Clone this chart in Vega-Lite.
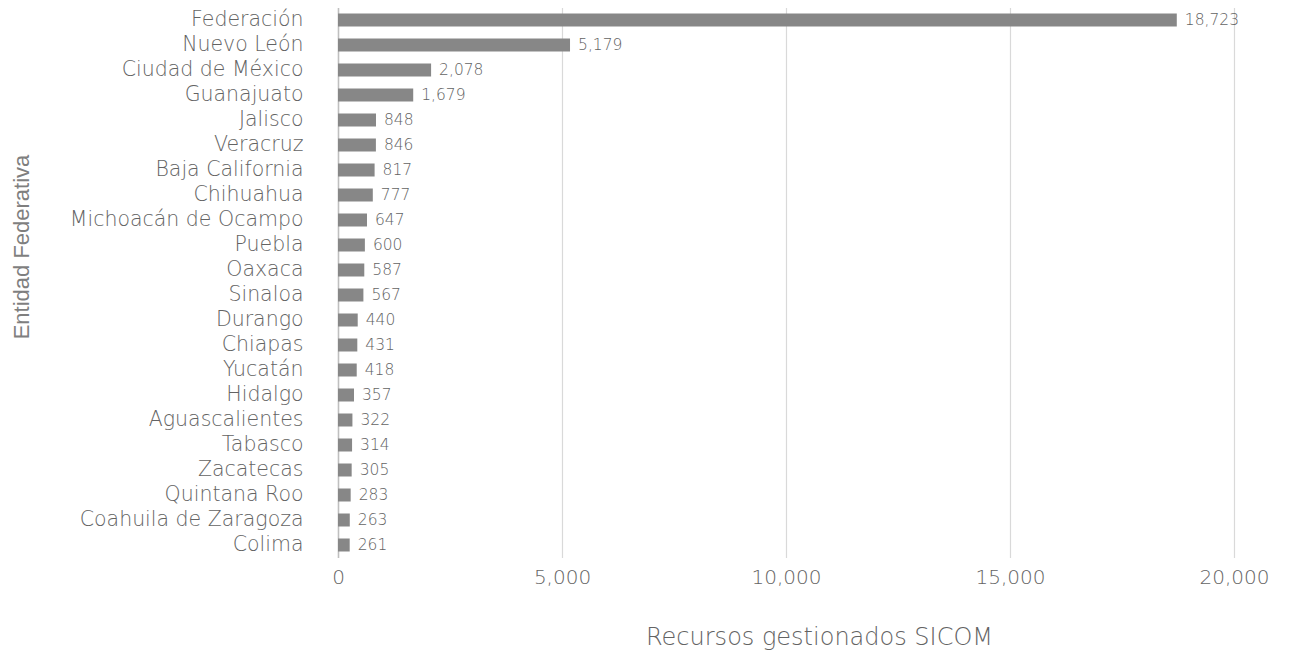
{
  "$schema": "https://vega.github.io/schema/vega-lite/v6.json",
  "width": 896,
  "height": 550,
  "autosize": "none",
  "padding": {"left": 338, "top": 7.5, "right": 55, "bottom": 96.5},
  "background": "white",
  "config": {"view": {"stroke": null}, "font": "DejaVu Sans"},
  "data": {"values": [
    {"entidad": "Federación", "valor": 18723},
    {"entidad": "Nuevo León", "valor": 5179},
    {"entidad": "Ciudad de México", "valor": 2078},
    {"entidad": "Guanajuato", "valor": 1679},
    {"entidad": "Jalisco", "valor": 848},
    {"entidad": "Veracruz", "valor": 846},
    {"entidad": "Baja California", "valor": 817},
    {"entidad": "Chihuahua", "valor": 777},
    {"entidad": "Michoacán de Ocampo", "valor": 647},
    {"entidad": "Puebla", "valor": 600},
    {"entidad": "Oaxaca", "valor": 587},
    {"entidad": "Sinaloa", "valor": 567},
    {"entidad": "Durango", "valor": 440},
    {"entidad": "Chiapas", "valor": 431},
    {"entidad": "Yucatán", "valor": 418},
    {"entidad": "Hidalgo", "valor": 357},
    {"entidad": "Aguascalientes", "valor": 322},
    {"entidad": "Tabasco", "valor": 314},
    {"entidad": "Zacatecas", "valor": 305},
    {"entidad": "Quintana Roo", "valor": 283},
    {"entidad": "Coahuila de Zaragoza", "valor": 263},
    {"entidad": "Colima", "valor": 261}
  ]},
  "encoding": {
    "y": {
      "field": "entidad", "type": "nominal", "sort": null,
      "scale": {"paddingInner": 0.48, "paddingOuter": 0.24},
      "axis": {
        "title": "Entidad Federativa",
        "titleFont": "Liberation Sans", "titleFontSize": 22, "titleFontWeight": "normal",
        "titleColor": "#7f7f7f", "titleAngle": -90, "titleAlign": "center", "titleBaseline": "middle",
        "titleX": -317, "titleY": 239,
        "labelFont": "DejaVu Sans", "labelFontWeight": 200, "labelFontSize": 20.5, "labelColor": "#636363",
        "labelPadding": 35, "labelLimit": 0, "ticks": false,
        "domain": true, "domainColor": "#bfbfbf", "domainWidth": 1.5, "grid": false
      }
    },
    "x": {
      "field": "valor", "type": "quantitative",
      "scale": {"domain": [0, 20000], "nice": false},
      "axis": {
        "title": "Recursos gestionados SICOM",
        "titleFont": "DejaVu Sans", "titleFontWeight": 200, "titleFontSize": 24, "titleColor": "#636363",
        "titleX": 481, "titleY": 80, "titleBaseline": "middle",
        "values": [0, 5000, 10000, 15000, 20000], "format": ",.0f",
        "labelFont": "DejaVu Sans", "labelFontWeight": 200, "labelFontSize": 20, "labelColor": "#636363",
        "labelPadding": 10, "labelFlush": false, "ticks": false, "domain": false,
        "grid": true, "gridColor": "#d9d9d9", "gridWidth": 1.2
      }
    }
  },
  "layer": [
    {"mark": {"type": "bar", "color": "#878787"}},
    {"mark": {"type": "text", "align": "left", "baseline": "middle", "dx": 8, "font": "DejaVu Sans", "fontWeight": 200, "fontSize": 15.5, "color": "#636363"},
     "encoding": {"text": {"field": "valor", "type": "quantitative", "format": ","}}}
  ]
}
